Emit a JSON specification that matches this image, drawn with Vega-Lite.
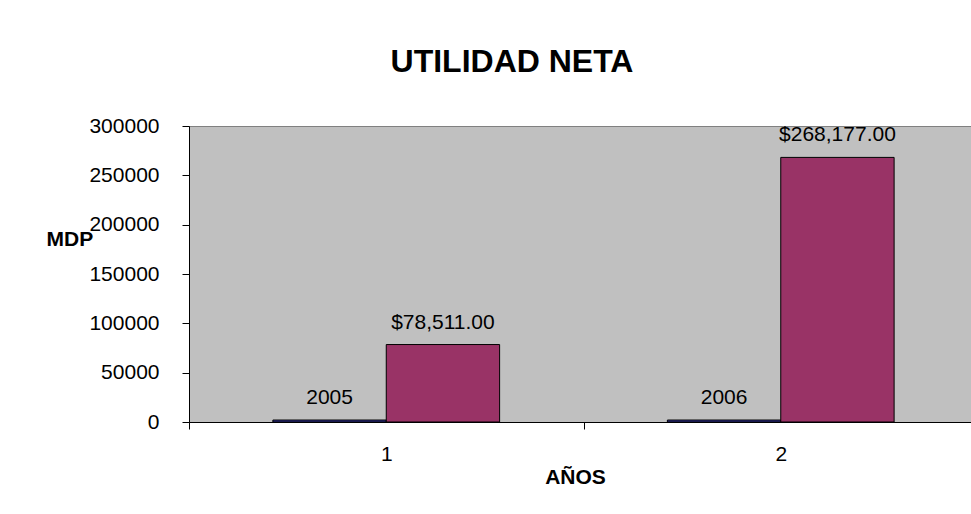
{
  "$schema": "https://vega.github.io/schema/vega-lite/v6.json",
  "autosize": {"type": "none"},
  "padding": {"left": 189, "top": 126, "right": 0, "bottom": 92},
  "width": 782,
  "height": 296,
  "background": "white",
  "config": {
    "font": "Liberation Sans",
    "view": {"fill": "#C0C0C0", "stroke": "#808080", "strokeWidth": 1}
  },
  "title": {
    "text": "UTILIDAD NETA",
    "font": "Liberation Sans",
    "fontSize": 32,
    "fontWeight": "bold",
    "color": "black",
    "anchor": "middle",
    "frame": "group",
    "baseline": "alphabetic",
    "dx": -68,
    "offset": 11
  },
  "data": {
    "values": [
      {"grupo": "1", "serie": "Año", "valor": 2005, "etiqueta": "2005"},
      {"grupo": "1", "serie": "Utilidad", "valor": 78511, "etiqueta": "$78,511.00"},
      {"grupo": "2", "serie": "Año", "valor": 2006, "etiqueta": "2006"},
      {"grupo": "2", "serie": "Utilidad", "valor": 268177, "etiqueta": "$268,177.00"}
    ]
  },
  "encoding": {
    "x": {
      "field": "grupo",
      "type": "nominal",
      "scale": {"range": [0, 789], "paddingInner": 0, "paddingOuter": 0},
      "axis": {
        "title": "AÑOS",
        "titleFont": "Liberation Sans",
        "titleFontSize": 21,
        "titleFontWeight": "bold",
        "titleColor": "black",
        "titleX": 386,
        "titleY": 61.5,
        "titleBaseline": "alphabetic",
        "titleAlign": "center",
        "labelAngle": 0,
        "labelFontSize": 21,
        "labelColor": "black",
        "labelPadding": 14,
        "labelBaseline": "top",
        "tickBand": "extent",
        "tickSize": 7,
        "tickColor": "black",
        "domainColor": "black",
        "grid": false
      }
    },
    "xOffset": {
      "field": "serie",
      "type": "nominal",
      "scale": {"paddingOuter": 0.74, "paddingInner": 0}
    },
    "y": {
      "field": "valor",
      "type": "quantitative",
      "scale": {"domain": [0, 300000], "nice": false},
      "axis": {
        "title": "MDP",
        "titleFont": "Liberation Sans",
        "titleFontSize": 21,
        "titleFontWeight": "bold",
        "titleColor": "black",
        "titleAngle": 0,
        "titleX": -143,
        "titleY": 119,
        "titleAlign": "left",
        "titleBaseline": "alphabetic",
        "values": [0, 50000, 100000, 150000, 200000, 250000, 300000],
        "format": "d",
        "labelFontSize": 21,
        "labelColor": "black",
        "labelPadding": 23,
        "tickSize": 7,
        "tickColor": "black",
        "domainColor": "black",
        "grid": false
      }
    }
  },
  "layer": [
    {
      "mark": {"type": "bar", "stroke": "black", "strokeWidth": 1},
      "encoding": {
        "color": {
          "field": "serie",
          "type": "nominal",
          "scale": {"domain": ["Año", "Utilidad"], "range": ["#333399", "#993366"]},
          "legend": null
        }
      }
    },
    {
      "mark": {"type": "text", "baseline": "alphabetic", "dy": -16, "fontSize": 21, "color": "black", "font": "Liberation Sans"},
      "encoding": {
        "text": {"field": "etiqueta", "type": "nominal"}
      }
    }
  ]
}
